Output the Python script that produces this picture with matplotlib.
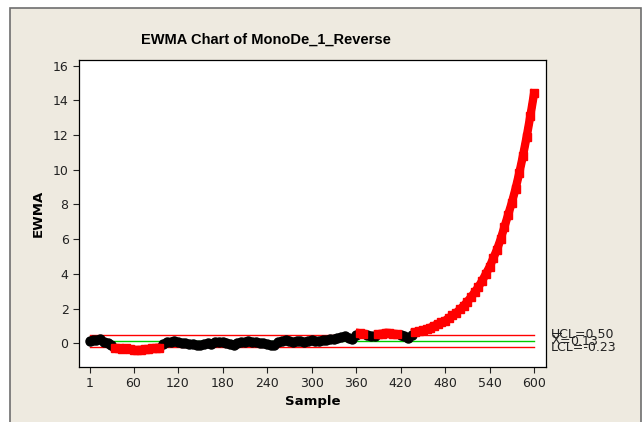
import numpy as np
import matplotlib
matplotlib.use("Agg")
import matplotlib.pyplot as plt
from matplotlib.patches import Rectangle

plt.rcParams['font.family'] = ['DejaVu Sans']
plt.rcParams['mathtext.fontset'] = 'dejavusans'

# EWMA values, every 5th sample
samples = [1] + list(range(5, 601, 5))
ewma = [0.15, 0.20, 0.18, 0.22, 0.10, 0.00, -0.12, -0.26, -0.30, -0.32,
        -0.30, -0.35, -0.38, -0.40, -0.38, -0.36, -0.35, -0.30, -0.28, -0.25,
        -0.05, 0.05, 0.10, 0.12, 0.05, 0.00, 0.02, -0.05, -0.02, -0.08,
        -0.10, -0.05, 0.00, -0.03, 0.05, 0.08, 0.10, 0.02, -0.05, -0.08,
        0.00, 0.05, 0.10, 0.12, 0.08, 0.05, 0.02, 0.00, -0.05, -0.08,
        -0.12, 0.05, 0.15, 0.18, 0.12, 0.10, 0.15, 0.12, 0.10, 0.15,
        0.18, 0.15, 0.12, 0.18, 0.20, 0.22, 0.25, 0.28, 0.35, 0.40,
        0.30, 0.25, 0.45, 0.58, 0.55, 0.48, 0.42, 0.40, 0.52, 0.55,
        0.60, 0.58, 0.55, 0.52, 0.45, 0.40, 0.30, 0.45, 0.65, 0.70,
        0.75, 0.80, 0.90, 1.00, 1.10, 1.20, 1.30, 1.45, 1.60, 1.75,
        1.95, 2.15, 2.40, 2.65, 2.95, 3.25, 3.60, 4.00, 4.40, 4.90,
        5.40, 6.00, 6.70, 7.40, 8.10, 8.90, 9.80, 10.80, 11.90, 13.10,
        14.40]

ucl = 0.50
center = 0.13
lcl = -0.23

x_ticks = [1, 60, 120, 180, 240, 300, 360, 420, 480, 540, 600]
y_ticks = [0, 2, 4, 6, 8, 10, 12, 14, 16]

x = np.array(samples)
y = np.array(ewma)
out = (y > ucl) | (y < lcl)

bg = '#eeeae0'
fig = plt.figure(figsize=(6.42, 4.22), dpi=100, facecolor='white')
# beige panel with thin frame (Minitab style), drawn behind the axes
frame = Rectangle((10.5 / 642, -0.05), (640.5 - 10.5) / 642, (422 - 8) / 422 + 0.05,
                  transform=fig.transFigure, facecolor=bg,
                  edgecolor='#6e6e6e', linewidth=1.2, zorder=-5)
fig.add_artist(frame)

ax = fig.add_axes([79 / 642, (422 - 367) / 422, (545.7 - 79) / 642, (367 - 60) / 422])
ax.set_zorder(2)
ax.set_facecolor('white')

# control limits
ax.plot([1, 600], [ucl, ucl], color='red', lw=1, zorder=2)
ax.plot([1, 600], [lcl, lcl], color='red', lw=1, zorder=2)
ax.plot([1, 600], [center, center], color='#00cc00', lw=1, zorder=2)

# EWMA line and points
ax.plot(x, y, color='black', lw=5, zorder=3, solid_capstyle='round')
y_red = np.where(out, y, np.nan)
ax.plot(x, y_red, color='red', lw=6, zorder=4)
ax.plot(x[~out], y[~out], 'o', color='black', ms=6.5, zorder=5)
ax.plot(x[out], y[out], 's', color='red', ms=6, zorder=6)

ax.set_xlim(-13.5, 615.7)
ax.set_ylim(-1.37, 16.33)
ax.set_xticks(x_ticks)
ax.set_yticks(y_ticks)
ax.tick_params(direction='out', length=4, width=0.8, labelsize=9, colors='#222222')
for sp in ax.spines.values():
    sp.set_color('black')
    sp.set_linewidth(0.9)

ax.set_xlabel('Sample', fontsize=9.5, fontweight='bold', labelpad=3)
ax.set_ylabel('EWMA', fontsize=9.5, fontweight='bold', labelpad=6)
fig.text(266 / 642, 1 - 40 / 422, 'EWMA Chart of MonoDe_1_Reverse', ha='center', va='center',
         fontsize=10.5, fontweight='bold', family=['Liberation Sans'])

# limit labels on the right
ax.text(1.0115, ucl, 'UCL=0.50', transform=ax.get_yaxis_transform(), fontsize=9,
        va='center', color='#222222', clip_on=False)
ax.text(1.0115, center, r'$\overline{\mathrm{X}}$=0.13', transform=ax.get_yaxis_transform(),
        fontsize=9, va='center', color='#222222', clip_on=False)
ax.text(1.0115, lcl, 'LCL=-0.23', transform=ax.get_yaxis_transform(), fontsize=9,
        va='center', color='#222222', clip_on=False)

fig.savefig('out.png', dpi=100, facecolor=fig.get_facecolor())
